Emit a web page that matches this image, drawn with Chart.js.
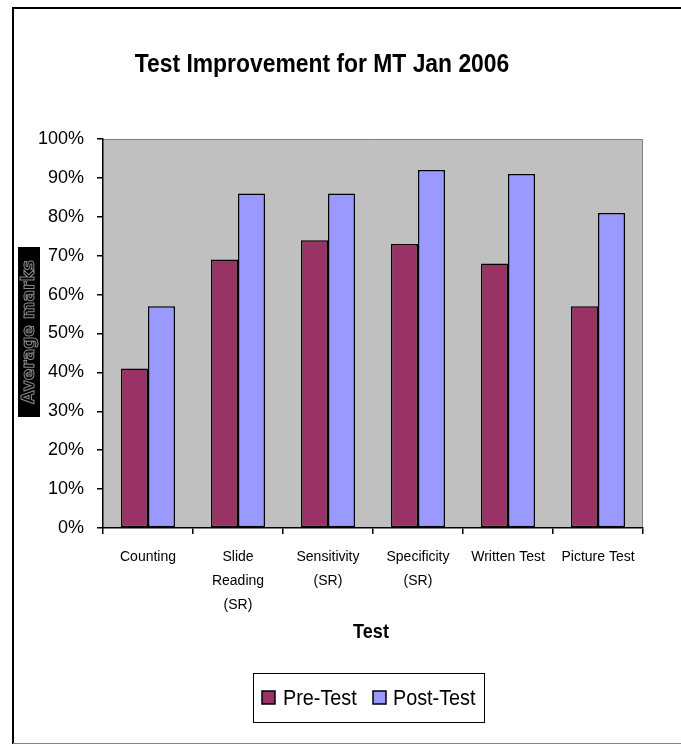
<!DOCTYPE html>
<html>
<head>
<meta charset="utf-8">
<script src="https://cdn.jsdelivr.net/npm/chart.js@4/dist/chart.umd.min.js"></script>
<style>
html,body{margin:0;padding:0;background:#fff;}
#wrap{width:681px;height:744px;position:relative;}
canvas{display:block;}
</style>
</head>
<body>
<div id="wrap"><canvas id="c" width="681" height="744"></canvas></div>
<script>
const categories = [["Counting"], ["Slide", "Reading", "(SR)"], ["Sensitivity", "(SR)"], ["Specificity", "(SR)"], ["Written Test"], ["Picture Test"]];
const preTest = [41, 69, 74, 73, 68, 57];
const postTest = [57, 86, 86, 92, 91, 81];
const yTicks = [0, 10, 20, 30, 40, 50, 60, 70, 80, 90, 100];
const seriesNames = ["Pre-Test", "Post-Test"];
const seriesColors = ["#993366", "#9999FF"];
const chartTitle = "Test Improvement for MT Jan 2006";
const xTitle = "Test";
const yTitle = "Average marks";

const SANS = '"Liberation Sans", Arial, sans-serif';

function narrowText(ctx, text, x, y, font, sx, align) {
  ctx.save();
  ctx.font = font;
  ctx.textAlign = align || 'center';
  ctx.textBaseline = 'middle';
  ctx.translate(x, y);
  ctx.scale(sx, 1);
  ctx.fillText(text, 0, 0);
  ctx.restore();
}

const decor = {
  id: 'decor',
  beforeDraw(chart) {
    const ctx = chart.ctx, a = chart.chartArea;
    ctx.save();
    ctx.fillStyle = '#fff';
    ctx.fillRect(0, 0, chart.width, chart.height);
    ctx.strokeStyle = '#000';
    ctx.lineWidth = 2;
    ctx.beginPath();
    ctx.moveTo(13, 744); ctx.lineTo(13, 8); ctx.lineTo(690, 8);
    ctx.stroke();
    ctx.strokeStyle = '#808080';
    ctx.lineWidth = 1;
    ctx.beginPath();
    ctx.moveTo(13, 743.5); ctx.lineTo(681, 743.5);
    ctx.stroke();
    ctx.fillStyle = '#C0C0C0';
    ctx.fillRect(a.left, a.top, a.right - a.left, a.bottom - a.top);
    ctx.strokeStyle = '#808080';
    ctx.lineWidth = 1;
    ctx.beginPath();
    ctx.moveTo(a.left, a.top + 0.5); ctx.lineTo(a.right - 0.5, a.top + 0.5); ctx.lineTo(a.right - 0.5, a.bottom);
    ctx.stroke();
    ctx.restore();
  },
  afterDraw(chart) {
    const ctx = chart.ctx;
    ctx.fillStyle = '#000';
    narrowText(ctx, chartTitle, 322, 65, 'bold 25px ' + SANS, 0.915);
    narrowText(ctx, xTitle, 371, 632, 'bold 21px ' + SANS, 0.86);
    // y title with black background
    ctx.save();
    ctx.translate(29, 332);
    ctx.rotate(-Math.PI / 2);
    ctx.fillStyle = '#000';
    ctx.fillRect(-85, -11, 170, 22);
    ctx.font = 'bold 17px "DejaVu Sans", sans-serif';
    ctx.strokeStyle = '#8a8a8a';
    ctx.lineWidth = 1;
    ctx.textAlign = 'center';
    ctx.textBaseline = 'middle';
    ctx.strokeText(yTitle, 0, 1);
    ctx.restore();
    // legend
    ctx.save();
    ctx.strokeStyle = '#000';
    ctx.lineWidth = 1;
    ctx.strokeRect(253.5, 673.5, 231, 49);
    const items = [{x: 262, tx: 283}, {x: 373, tx: 393}];
    items.forEach((it, i) => {
      ctx.fillStyle = seriesColors[i];
      ctx.fillRect(it.x, 691, 13, 13);
      ctx.lineWidth = 1.5;
      ctx.strokeStyle = '#000';
      ctx.strokeRect(it.x, 691, 13, 13);
      ctx.fillStyle = '#000';
      narrowText(ctx, seriesNames[i], it.tx, 699, '22px ' + SANS, 0.9, 'left');
    });
    ctx.restore();
  }
};

new Chart(document.getElementById('c'), {
  type: 'bar',
  data: {
    labels: categories,
    datasets: [
      {label: seriesNames[0], data: preTest, backgroundColor: seriesColors[0], borderColor: '#000', borderWidth: 1.5, borderSkipped: false},
      {label: seriesNames[1], data: postTest, backgroundColor: seriesColors[1], borderColor: '#000', borderWidth: 1.5, borderSkipped: false}
    ]
  },
  options: {
    responsive: false,
    animation: false,
    devicePixelRatio: 1,
    layout: {padding: {top: 139, right: 38, left: 0, bottom: 0}},
    datasets: {bar: {barPercentage: 1, categoryPercentage: 0.6}},
    plugins: {legend: {display: false}, title: {display: false}, tooltip: {enabled: false}},
    scales: {
      x: {
        grid: {display: true, drawOnChartArea: false, offset: true, color: '#000', tickLength: 6, lineWidth: 1.5},
        border: {display: true, color: '#000', width: 1.5},
        ticks: {color: '#000', font: {family: SANS, size: 14, lineHeight: 1.714}, padding: 11, maxRotation: 0, autoSkip: false},
        afterFit(s) { s.height = 216; }
      },
      y: {
        min: 0, max: 100,
        afterBuildTicks(s) { s.ticks = yTicks.map(v => ({value: v})); },
        grid: {display: true, drawOnChartArea: false, color: '#000', tickLength: 6, lineWidth: 1.5},
        border: {display: true, color: '#000', width: 1.5},
        ticks: {color: '#000', font: {family: SANS, size: 18}, padding: 13, callback: v => v + '%'},
        afterFit(s) { s.width = 103; }
      }
    }
  },
  plugins: [decor]
});
</script>
</body>
</html>
